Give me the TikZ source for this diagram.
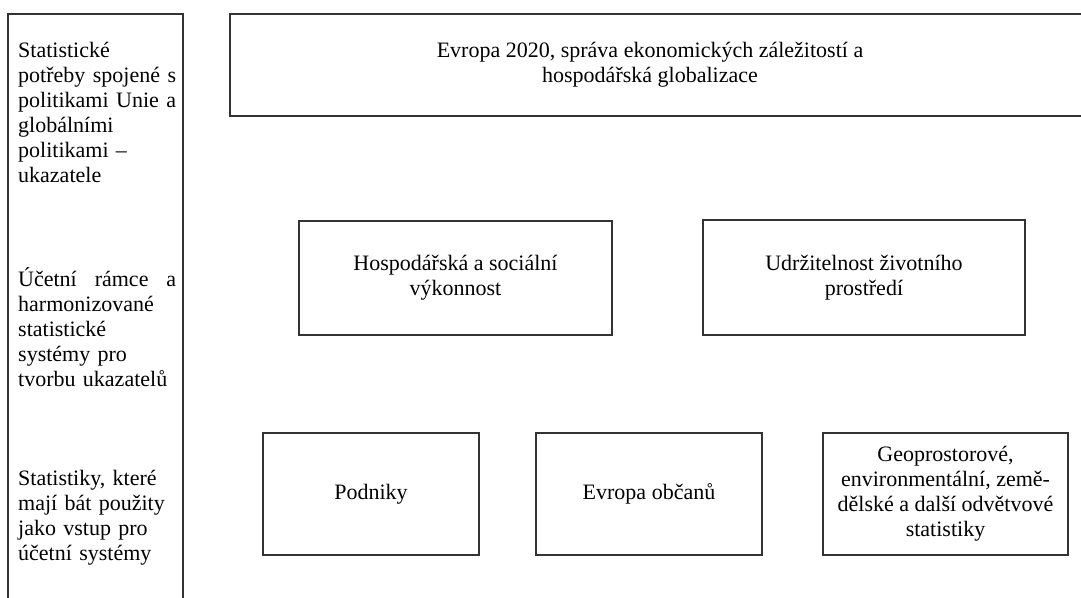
\documentclass[tikz,border=0pt]{standalone}
\usepackage{fontspec}
\setmainfont{Liberation Serif}

\begin{document}
\begin{tikzpicture}[x=1pt, y=-1pt,
	font=\fontsize{22}{25}\selectfont,
	frame/.style={draw=black!80, line width=1.2pt},
	box/.style={frame, align=center, inner sep=0pt},
	side/.style={text width=158pt, align=left, inner sep=0pt, anchor=north west}]

	% ---- page

	\useasboundingbox (0,0) rectangle (1081,597);
	\clip (0,0) rectangle (1081,597);

	% ---- left column

	\draw[frame] (8,14) rectangle (183,620);

	\node[side] (needs) at (18,42) {Statistické\\
		potřeby\hfill spojené\hfill s\\
		politikami\hfill Unie\hfill a\\
		globálními\\
		politikami --\\
		ukazatele};

	\node[side] (accounts) at (18,267) {Účetní\hfill rámce\hfill a\\
		harmonizované\\
		statistické\\
		systémy pro\\
		tvorbu ukazatelů};

	\node[side] (inputs) at (18,470) {Statistiky, které\\
		mají bát použity\\
		jako vstup pro\\
		účetní systémy};

	% ---- top level

	\node[box, minimum width=860pt, minimum height=102pt] (europe) at (660,65)
	{Evropa 2020, správa ekonomických záležitostí a\hspace*{20pt}\\hospodářská globalizace\hspace*{20pt}};

	% ---- middle level

	\node[box, minimum width=313pt, minimum height=114pt] (economy) at (455.5,278)
	{Hospodářská a sociální\\výkonnost};

	\node[box, minimum width=322pt, minimum height=115pt] (environment) at (864,277.5)
	{Udržitelnost životního\\prostředí};

	% ---- bottom level

	\node[box, minimum width=216pt, minimum height=122pt] (business) at (371,494)
	{Podniky};

	\node[box, minimum width=226pt, minimum height=122pt] (citizens) at (649,494)
	{Evropa občanů};

	\node[box, minimum width=245pt, minimum height=122pt] (sectors) at (945.5,494)
	{Geoprostorové,\\environmentální, země-\\dělské a další odvětvové\\statistiky};

\end{tikzpicture}
\end{document}
